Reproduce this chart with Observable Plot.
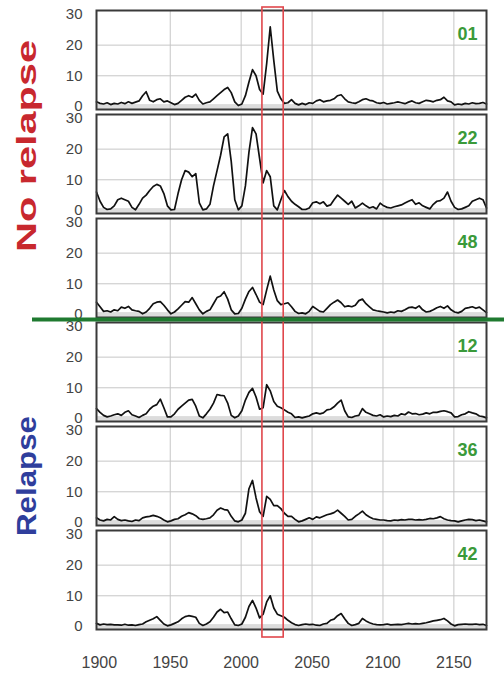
<!DOCTYPE html>
<html>
<head>
<meta charset="utf-8">
<script src="https://cdn.jsdelivr.net/npm/d3@7"></script>
<script src="https://cdn.jsdelivr.net/npm/@observablehq/plot@0.6"></script>
<style>
  html, body { margin: 0; padding: 0; background: #fff; }
</style>
</head>
<body>
<div id="chart"></div>
<script>
// ---- data ----
const panelIds = ["01", "22", "48", "12", "36", "42"];
const years = d3.range(1898, 2174, 2.5); // sampling grid 1898 … 2173
const xTicks = [1900, 1950, 2000, 2050, 2100, 2150];
const yTicks = [0, 10, 20, 30];
const highlight = [2015, 2030];
const groupLabels = ["No relapse", "Relapse"];

const s01 = [1.5,1.0,0.8,1.2,0.6,1.0,0.8,1.3,0.9,1.5,1.0,1.4,1.8,3.5,4.8,2.0,1.5,2.2,2.5,1.5,1.8,1.2,0.6,1.0,2.0,3.0,3.5,3.0,4.0,2.0,0.8,1.2,1.5,2.5,3.5,4.5,5.5,6.2,4.5,1.5,0.3,0.8,3.5,8.0,12.0,10.0,5.5,4.0,14.0,26.0,15.0,5.0,2.5,1.0,1.2,2.2,1.0,0.5,1.0,0.6,1.2,1.0,1.8,2.2,1.5,1.8,2.0,2.5,3.5,3.8,2.5,1.5,1.2,1.0,1.5,2.2,2.5,2.0,1.8,1.2,1.0,1.3,0.8,1.0,1.2,1.5,1.2,0.9,1.4,1.8,1.2,1.0,1.5,2.0,1.8,1.5,2.0,2.2,3.0,1.8,1.5,0.5,0.8,0.6,1.0,0.8,1.2,0.9,1.0,1.3,0.8];
const s22 = [6.0,3.0,1.0,0.3,0.5,1.5,3.5,4.0,3.5,3.0,1.0,0.2,2.0,4.0,5.0,6.5,7.8,8.5,8.0,5.5,1.5,0.2,0.3,5.5,10.0,13.0,12.5,11.0,12.0,2.5,0.2,0.5,2.0,8.0,13.0,18.0,24.0,25.0,16.0,3.5,0.2,1.5,8.0,19.0,27.0,25.0,17.0,9.0,13.0,11.0,1.5,0.2,3.5,6.5,4.5,3.0,2.0,1.2,0.3,0.3,0.8,2.5,2.8,2.2,2.8,1.4,1.8,3.5,5.0,4.0,3.0,2.0,3.0,0.8,1.5,2.4,1.5,0.8,1.2,0.5,2.4,1.5,1.0,0.8,1.2,1.5,1.8,2.4,3.0,3.5,2.0,2.5,1.5,1.0,0.5,2.0,3.0,3.2,4.0,6.0,3.0,1.0,0.3,0.5,1.0,1.5,3.0,3.5,4.0,3.5,0.8];
const s48 = [4.0,2.5,1.0,1.2,0.8,1.5,1.2,2.4,2.0,2.6,1.5,1.2,1.0,0.2,0.8,2.0,3.5,4.0,4.2,3.0,1.5,0.2,0.8,1.8,3.0,4.2,4.0,5.5,3.5,1.5,0.2,1.0,1.5,3.5,5.5,6.0,7.4,5.0,1.5,0.2,0.3,2.0,5.0,7.5,8.8,6.5,4.0,3.2,8.0,12.5,8.0,4.5,3.2,3.5,3.8,2.5,1.0,0.3,0.5,0.2,1.0,2.6,1.8,1.0,0.8,2.0,3.2,4.0,4.7,3.8,2.5,2.8,2.5,3.0,4.5,5.0,3.5,2.5,1.5,1.2,1.0,0.8,0.5,0.8,0.6,1.2,1.0,1.5,2.2,2.4,2.0,2.8,1.5,0.8,1.0,1.5,2.2,2.6,2.0,2.8,1.5,0.8,0.5,1.0,2.0,2.2,2.5,2.0,2.4,1.5,0.6];
const s12 = [3.2,2.0,1.0,0.5,0.8,1.2,1.5,1.0,2.0,2.5,1.2,0.8,0.3,1.0,1.5,3.0,4.0,4.5,6.3,3.5,0.5,0.5,1.5,3.0,4.0,5.0,6.0,6.2,4.0,0.8,0.2,1.5,3.0,5.0,7.8,7.5,7.4,5.0,1.0,0.2,0.8,2.5,6.0,8.5,9.8,7.0,3.0,3.5,11.0,9.0,5.5,4.0,3.5,2.8,2.0,1.5,0.3,0.5,0.2,0.5,0.8,1.5,1.8,1.5,1.8,2.8,3.0,3.8,5.0,6.0,2.5,0.5,0.3,0.8,1.0,3.2,2.0,1.5,1.0,0.8,1.2,0.5,0.8,0.6,1.0,0.8,1.5,1.2,2.1,1.5,1.6,1.2,1.4,1.8,1.5,2.0,2.0,2.3,2.5,2.2,1.8,0.5,0.6,1.2,1.5,2.2,1.8,1.5,0.8,0.6,0.2];
const s36 = [1.5,0.8,0.5,1.0,0.8,1.9,1.0,0.6,0.8,0.5,0.3,0.8,0.6,1.5,1.8,2.0,2.3,2.0,1.5,0.8,0.2,0.5,1.0,1.2,2.0,2.5,3.2,2.8,2.2,1.2,1.0,1.2,1.5,2.5,4.0,4.7,4.2,4.0,2.0,0.5,0.2,0.8,3.0,11.0,13.7,8.0,3.5,2.0,8.5,7.5,5.5,5.5,4.5,3.0,2.0,2.0,1.0,0.2,0.5,1.0,1.5,1.0,1.8,1.5,2.0,2.5,2.8,3.2,4.0,3.0,2.0,0.8,1.0,2.0,2.8,3.7,2.5,1.8,1.2,1.0,0.8,0.8,0.6,0.5,0.8,0.7,0.9,0.8,1.0,1.0,0.8,0.9,0.8,1.0,1.3,1.2,1.5,1.9,1.2,0.8,0.6,0.5,0.2,0.5,0.8,1.0,0.9,0.6,0.8,0.5,0.2];
const s42 = [1.0,0.5,0.8,0.6,0.7,0.5,0.5,0.4,0.7,0.4,0.5,0.3,0.6,0.8,1.5,2.0,2.5,3.2,2.0,0.8,0.2,0.5,1.0,1.5,2.5,3.2,3.5,3.3,3.0,1.0,0.3,0.8,1.5,3.0,4.7,5.6,4.5,4.7,2.5,0.5,0.3,0.8,3.0,6.5,8.5,6.0,2.8,4.0,8.0,10.0,6.0,4.0,3.5,3.0,2.0,1.2,0.6,0.3,0.6,0.8,0.6,0.7,0.4,0.3,0.8,1.0,2.0,2.4,3.5,4.2,2.5,1.0,0.3,0.6,1.0,2.6,1.8,1.2,0.8,0.6,0.5,0.6,0.8,0.5,0.6,0.7,0.6,0.8,1.0,0.8,0.9,0.8,1.0,1.2,1.5,1.8,2.0,2.2,2.6,1.8,0.8,0.2,0.6,0.7,0.8,0.7,0.7,0.8,0.6,0.7,0.3];

const seriesById = { "01": s01, "22": s22, "48": s48, "12": s12, "36": s36, "42": s42 };
const rows = panelIds.flatMap(id => seriesById[id].map((v, i) => ({ id, year: years[i], v })));
const panels = panelIds.map(id => ({ id }));

// ---- chart ----
const plot = Plot.plot({
  width: 504,
  height: 674,
  marginLeft: 96,
  marginRight: 18,
  marginTop: 8,
  marginBottom: 42,
  style: { fontFamily: "'Liberation Sans', Arial, sans-serif", color: "#444", background: "#fff" },
  x: { domain: [1898, 2173], label: null },
  y: { domain: [-1, 31.3], label: null },
  fy: { domain: panelIds, paddingInner: 0.046, paddingOuter: 0, axis: null, label: null },
  marks: [
    Plot.rect(panels, { fy: "id", x1: 1898, x2: 2173, y1: -1, y2: 0.6, fill: "#dcdcdc" }),
    Plot.gridX({ ticks: xTicks.slice(1), stroke: "#c6c6c6", strokeOpacity: 1, strokeWidth: 1 }),
    Plot.gridY({ ticks: [10, 20], stroke: "#c6c6c6", strokeOpacity: 1, strokeWidth: 1 }),
    Plot.lineY(rows, { x: "year", y: "v", fy: "id", stroke: "#111", strokeWidth: 1.7 }),
    Plot.frame({ stroke: "#3a3a3a", strokeWidth: 2 }),
    Plot.text(panels, { fy: "id", text: "id", frameAnchor: "top-right", dx: -9, dy: 24, lineAnchor: "middle", fill: "#3a9a3a", fontWeight: "bold", fontSize: 18 }),
    Plot.axisY({ ticks: yTicks, tickSize: 0, tickPadding: 14, fontSize: 15, label: null }),
    Plot.axisX({ ticks: xTicks, tickSize: 0, tickPadding: 27, fontSize: 16, tickFormat: d => String(d), label: null })
  ]
});

const svg = d3.select(plot);
const xs = plot.scale("x");
const fys = plot.scale("fy");
const bw = fys.bandwidth;

// red highlight window across all panels
const hx1 = xs.apply(highlight[0]), hx2 = xs.apply(highlight[1]);
const top0 = fys.apply(panelIds[0]) - 3;
const bot0 = fys.apply(panelIds[panelIds.length - 1]) + bw + 8;
svg.append("rect")
  .attr("x", hx1).attr("y", top0)
  .attr("width", hx2 - hx1).attr("height", bot0 - top0)
  .attr("fill", "none").attr("stroke", "#e0474c").attr("stroke-width", 1.6);

// green separator between groups
const sepY = (fys.apply("48") + bw + fys.apply("12")) / 2;
svg.append("line")
  .attr("x1", 32).attr("x2", 504).attr("y1", sepY).attr("y2", sepY)
  .attr("stroke", "#1f7a30").attr("stroke-width", 4);

// group labels
const groups = [
  { text: groupLabels[0], color: "#c8282e", y1: fys.apply("01") + 30, y2: fys.apply("48") + 34, len: 212 },
  { text: groupLabels[1], color: "#2f3e9c", y1: fys.apply("12") + 94, y2: fys.apply("36") + 110, len: 120 }
];
groups.forEach(g => {
  const cy = (g.y1 + g.y2) / 2;
  svg.append("text")
    .attr("x", 26).attr("y", cy)
    .attr("transform", `rotate(-90, 26, ${cy})`)
    .attr("text-anchor", "middle")
    .attr("dominant-baseline", "central")
    .attr("textLength", g.len)
    .attr("lengthAdjust", "spacingAndGlyphs")
    .attr("font-size", 28)
    .attr("font-weight", "bold")
    .attr("font-family", "'Liberation Sans', Arial, sans-serif")
    .attr("fill", g.color)
    .text(g.text);
});

document.getElementById("chart").appendChild(plot);
</script>
</body>
</html>
